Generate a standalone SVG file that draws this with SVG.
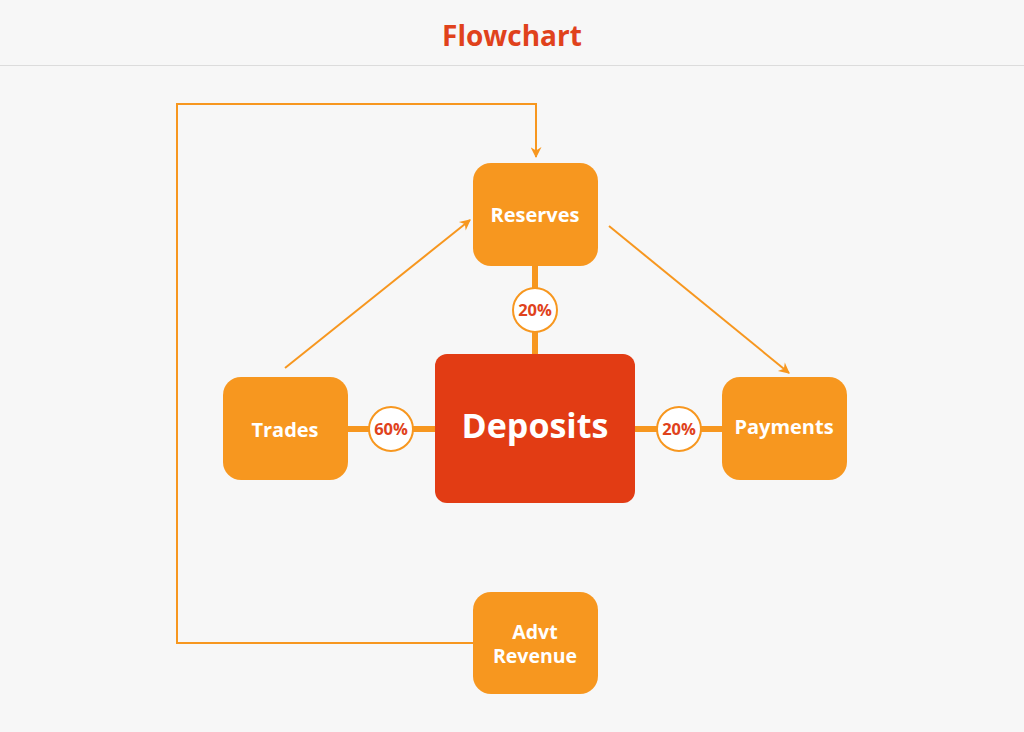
<svg xmlns="http://www.w3.org/2000/svg" width="1024" height="732" viewBox="0 0 1024 732">
<defs>
<style>
.node{fill:#f7971f}
.lbl{font-family:"Open Sans","Noto Sans","Liberation Sans",sans-serif;font-weight:700;fill:#ffffff;text-anchor:middle}
.pct{font-family:"Open Sans","Noto Sans","Liberation Sans",sans-serif;font-weight:700;fill:#e0421c;text-anchor:middle;font-size:16.5px}
.thin{fill:none;stroke:#f7971f;stroke-width:2}
.thick{fill:none;stroke:#f7971f;stroke-width:6}
.badge{fill:#ffffff;stroke:#f7971f;stroke-width:2}
</style>
<marker id="arr" viewBox="0 0 10 10" refX="9" refY="5" markerWidth="13" markerHeight="11" orient="auto" markerUnits="userSpaceOnUse">
<path d="M0,0 L10,5 L0,10 L3,5 Z" fill="#f7971f"/>
</marker>
</defs>
<rect width="1024" height="732" fill="#f7f7f7"/>
<line x1="0" y1="65.5" x2="1024" y2="65.5" stroke="#dcdcdc" stroke-width="1"/>
<text x="512" y="46" font-family="'Open Sans','Noto Sans','Liberation Sans',sans-serif" font-weight="700" font-size="28" fill="#e0421c" text-anchor="middle">Flowchart</text>
<g id="connectors">
<line class="thick" x1="535" y1="266" x2="535" y2="354"/>
<line class="thick" x1="348" y1="429" x2="435" y2="429"/>
<line class="thick" x1="635" y1="429" x2="722" y2="429"/>
<polyline class="thin" points="473,643 177,643 177,104 536,104 536,157" marker-end="url(#arr)"/>
<line class="thin" x1="285" y1="368" x2="470" y2="220" marker-end="url(#arr)"/>
<line class="thin" x1="609" y1="226" x2="789" y2="373" marker-end="url(#arr)"/>
<g id="badge-top"><circle class="badge" cx="535" cy="310" r="22"/><text class="pct" x="535" y="316">20%</text></g>
<g id="badge-left"><circle class="badge" cx="391" cy="429" r="22"/><text class="pct" x="391" y="435">60%</text></g>
<g id="badge-right"><circle class="badge" cx="679" cy="429" r="22"/><text class="pct" x="679" y="435">20%</text></g>
</g>
<g id="reserves"><rect class="node" x="473" y="163" width="125" height="103" rx="18"/><text class="lbl" x="535" y="222" font-size="20">Reserves</text></g>
<g id="trades"><rect class="node" x="223" y="377" width="125" height="103" rx="18"/><text class="lbl" x="285" y="437" font-size="20">Trades</text></g>
<g id="payments"><rect class="node" x="722" y="377" width="125" height="103" rx="18"/><text class="lbl" x="784" y="434" font-size="20">Payments</text></g>
<g id="advt"><rect class="node" x="473" y="592" width="125" height="102" rx="18"/><text class="lbl" x="535" y="639" font-size="19.5">Advt</text><text class="lbl" x="535" y="663" font-size="19.5">Revenue</text></g>
<g id="deposits"><rect x="435" y="354" width="200" height="149" rx="12" fill="#e23c14"/><text class="lbl" x="535" y="438" font-size="34">Deposits</text></g>
</svg>
